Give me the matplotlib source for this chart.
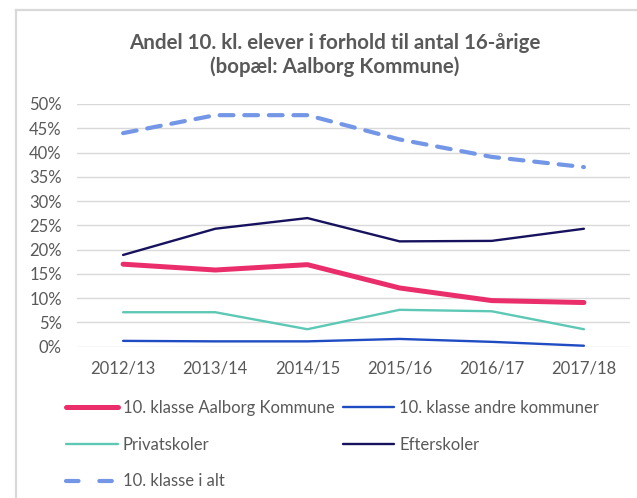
import matplotlib
matplotlib.use("Agg")
import matplotlib.pyplot as plt
from matplotlib.lines import Line2D

years = ["2012/13", "2013/14", "2014/15", "2015/16", "2016/17", "2017/18"]
aalborg = [17.0, 15.8, 16.9, 12.1, 9.5, 9.1]
andre = [1.2, 1.1, 1.1, 1.6, 1.0, 0.2]
privat = [7.1, 7.1, 3.6, 7.6, 7.3, 3.6]
efter = [18.9, 24.3, 26.5, 21.7, 21.8, 24.3]
i_alt = [44.0, 47.7, 47.7, 42.7, 39.1, 37.0]
yticks = [0, 5, 10, 15, 20, 25, 30, 35, 40, 45, 50]

title = "Andel 10. kl. elever i forhold til antal 16-årige\n(bopæl: Aalborg Kommune)"
labels = ["10. klasse Aalborg Kommune", "10. klasse andre kommuner",
          "Privatskoler", "Efterskoler", "10. klasse i alt"]

plt.rcParams['font.family'] = ['Lato', 'DejaVu Sans']
W, H = 637, 498
fig = plt.figure(figsize=(W / 100, H / 100), dpi=100)

# frame of chart area (left + top)
fig.add_artist(Line2D([16 / W, 16 / W], [0, 1 - 10 / H], color="#D9D9D9", lw=1.6,
                      transform=fig.transFigure))
fig.add_artist(Line2D([16 / W, 1], [1 - 10 / H, 1 - 10 / H], color="#D9D9D9", lw=1.6,
                      transform=fig.transFigure))

left, right = 77 / W, 630 / W
bottom, top = 1 - 346.7 / H, 1 - 104 / H
ax = fig.add_axes([left, bottom, right - left, top - bottom])

x = list(range(len(years)))
gray = "#595959"
dash_color = "#7396E6"
l1, = ax.plot(x, aalborg, color="#EA2E6B", lw=3.6, solid_capstyle="round", zorder=5)
l2, = ax.plot(x, andre, color="#1F4CC3", lw=1.7, solid_capstyle="round", zorder=4)
l3, = ax.plot(x, privat, color="#5DC8B5", lw=1.7, solid_capstyle="round", zorder=4)
l4, = ax.plot(x, efter, color="#16125E", lw=1.7, solid_capstyle="round", zorder=4)
l5, = ax.plot(x, i_alt, color=dash_color, lw=3.0, dashes=(3.3, 2.6),
              dash_capstyle="round", zorder=4)
l5_leg = Line2D([], [], color=dash_color, lw=3.0, dashes=(3.0, 5.0),
                dash_capstyle="round")

ax.set_xlim(-0.5, len(years) - 0.5)
ax.set_ylim(0, 50)
ax.set_yticks(yticks)
ax.set_yticklabels([f"{v}%" for v in yticks])
ax.set_xticks(x)
ax.set_xticklabels(years)
ax.grid(axis="y", color="#D9D9D9", lw=1.0)
ax.set_axisbelow(True)
for s in ax.spines.values():
    s.set_visible(False)
ax.tick_params(axis="both", length=0, colors=gray, labelsize=12)
ax.tick_params(axis="y", pad=11)
ax.tick_params(axis="x", pad=10)

fig.text(335 / W, 1 - 55 / H, title, ha="center", va="center", fontsize=14.8,
         fontweight="bold", color=gray, linespacing=1.25)

handles = [l1, l3, l5_leg, l2, l4]
labs = [labels[0], labels[2], labels[4], labels[1], labels[3]]
leg = fig.legend(handles, labs, ncol=2, loc="upper left",
                 bbox_to_anchor=(66 / W, 1 - 400 / H), frameon=False,
                 borderpad=0, borderaxespad=0,
                 fontsize=12, labelcolor=gray, handlelength=3.1,
                 handletextpad=0.3, columnspacing=0.5, labelspacing=1.24)

fig.savefig("out.png", dpi=100)
